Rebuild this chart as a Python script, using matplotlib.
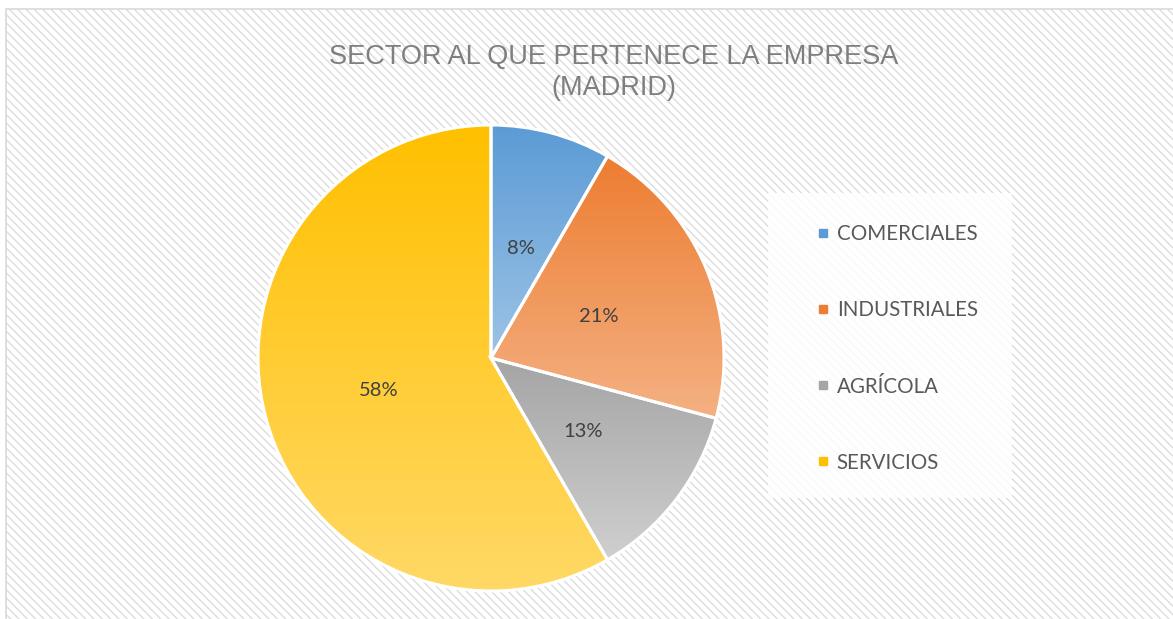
"""Pie chart: sector de la empresa (Madrid)."""

import matplotlib
matplotlib.use("Agg")
import matplotlib.pyplot as plt
import numpy as np
from matplotlib.colors import LinearSegmentedColormap
from matplotlib.lines import Line2D
from matplotlib.patches import Rectangle

W, H, DPI = 1173, 619, 100

TITLE = "SECTOR AL QUE PERTENECE LA EMPRESA\n(MADRID)"
SECTORS = ["COMERCIALES", "INDUSTRIALES", "AGRÍCOLA", "SERVICIOS"]
COUNTS = [2, 5, 3, 14]
TOP_COLORS = ["#5B9BD5", "#ED7D31", "#A5A5A5", "#FFC000"]
BOTTOM_COLORS = ["#9DC3E6", "#F4B183", "#CFCFCF", "#FFD966"]

plt.rcParams["hatch.linewidth"] = 1.0


def px(x, y, w, h):
    # pixel box (top-left origin) -> figure fraction
    return [x / W, 1 - (y + h) / H, w / W, h / H]


def _main() -> None:
    fig = plt.figure(figsize=(W / DPI, H / DPI), dpi=DPI)
    fig.patch.set_facecolor("white")

    # hatched chart background + light border (kept below the axes)
    bg = Rectangle((6 / W, 0), 1.0, 1 - 9 / H, transform=fig.transFigure,
                   facecolor="white", edgecolor="#dcdcdc", linewidth=0,
                   hatch="\\\\\\\\", zorder=-3)
    fig.patches.append(bg)
    border = Rectangle((6 / W, -0.01), 1.0, 1 - 9 / H + 0.01,
                       transform=fig.transFigure, facecolor="none",
                       edgecolor="#d9d9d9", linewidth=1.2, zorder=-2)
    fig.patches.append(border)

    # legend panel
    panel = Rectangle(px(768, 193, 244, 305)[:2], 244 / W, 305 / H,
                      transform=fig.transFigure, facecolor="white",
                      edgecolor="none", alpha=0.85, zorder=-1)
    fig.patches.append(panel)

    fig.text(614 / W, 1 - 72.5 / H, TITLE, ha="center", va="center",
             fontsize=19.5, color="#7f7f7f", family="Liberation Sans",
             linespacing=1.24)

    r = 233
    ax = fig.add_axes(px(491 - r, 358 - r, 2 * r, 2 * r))
    wedges, _, autotexts = ax.pie(
        COUNTS, startangle=90, counterclock=False, radius=1,
        autopct=lambda p: f"{int(p + 0.5)}%", pctdistance=0.5,
        wedgeprops=dict(edgecolor="white", linewidth=2.2),
        textprops=dict(fontsize=14.5, color="#404040", family="Lato"))

    fig.canvas.draw()
    inv = ax.transData.inverted()
    for w, c0, c1 in zip(wedges, TOP_COLORS, BOTTOM_COLORS):
        ext = w.get_window_extent()
        (x0, y0), (x1, y1) = inv.transform([[ext.x0, ext.y0], [ext.x1, ext.y1]])
        cmap = LinearSegmentedColormap.from_list("g", [c0, c1])
        grad = np.linspace(0, 1, 256).reshape(-1, 1)
        im = ax.imshow(grad, cmap=cmap, extent=[x0, x1, y0, y1],
                       origin="upper", aspect="auto", zorder=0.5,
                       interpolation="bilinear")
        im.set_clip_path(w)
        w.set_facecolor("none")
        w.set_zorder(1)
    for t in autotexts:
        t.set_zorder(3)
        x, y = t.get_position()
        t.set_position((x, y - 0.012))
    ax.set_xlim(-1, 1)
    ax.set_ylim(-1, 1)
    ax.set_aspect("equal")
    ax.axis("off")

    handles = [Line2D([], [], linestyle="none", marker="s", markersize=6,
                      markerfacecolor=c, markeredgecolor=c)
               for c in TOP_COLORS]
    fig.legend(handles, SECTORS, loc="upper left",
               bbox_to_anchor=(807 / W, 1 - 214 / H), frameon=False,
               prop=dict(family="Lato", size=14.8), labelcolor="#595959",
               handlelength=0.6, handletextpad=0.35, labelspacing=2.73,
               borderpad=0)

    fig.savefig("out.png", dpi=DPI)


if __name__ == "__main__":
    _main()
